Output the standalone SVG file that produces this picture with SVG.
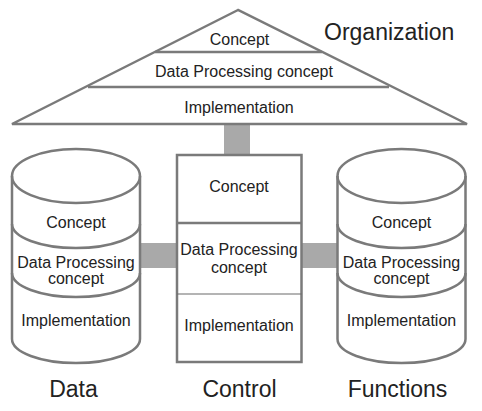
<svg xmlns="http://www.w3.org/2000/svg" width="482" height="411" viewBox="0 0 482 411">
<style>
.ln{fill:none;stroke:#7a7a7a;stroke-width:2.5}
.bx{fill:#fff;stroke:#7a7a7a;stroke-width:2.5}
.thin{stroke:#6a6a6a;stroke-width:1.2}
.bar{fill:#a9a9a9}
text{font-family:"Liberation Sans",Arial,sans-serif;fill:#222;text-anchor:middle}
.s{font-size:16px}
.b{font-size:23px}
</style>
<rect width="482" height="411" fill="#fff"/>
<g id="connectors">
<rect class="bar" x="224" y="123" width="26" height="33"/>
<rect class="bar" x="139" y="243" width="39" height="25"/>
<rect class="bar" x="300" y="243" width="39" height="25"/>
</g>
<g id="organization">
<polygon class="bx" points="238,10 12,124 467,124"/>
<line class="ln" x1="155" y1="52" x2="322" y2="52"/>
<line class="ln" x1="88" y1="87" x2="389" y2="87"/>
<text class="s" x="239.5" y="45">Concept</text>
<text class="s" x="244" y="77">Data Processing concept</text>
<text class="s" x="239" y="113">Implementation</text>
<text class="b" x="324" y="39.5" style="text-anchor:start">Organization</text>
</g>
<g id="data">
<path class="bx" d="M12,176 A64,27 0 0 1 140,176 L140,339 A64,24 0 0 1 12,339 Z"/>
<path class="ln" d="M12,176 A64,27 0 0 0 140,176"/>
<path class="ln" d="M12,224 A64,24 0 0 0 140,224"/>
<path class="ln" d="M12,273 A64,24 0 0 0 140,273"/>
<text class="s" x="76" y="227.5">Concept</text>
<text class="s" x="76" y="267.5">Data Processing</text>
<text class="s" x="76" y="283.5">concept</text>
<text class="s" x="76" y="326">Implementation</text>
<text class="b" x="73.5" y="397">Data</text>
</g>
<g id="control">
<rect class="bx" x="177" y="155" width="124.5" height="207"/>
<line class="ln" x1="177" y1="223" x2="301.5" y2="223"/>
<line class="thin" x1="177" y1="294" x2="301.5" y2="294"/>
<text class="s" x="239" y="191.5">Concept</text>
<text class="s" x="239" y="255">Data Processing</text>
<text class="s" x="239" y="272.5">concept</text>
<text class="s" x="239" y="331">Implementation</text>
<text class="b" x="239.5" y="397">Control</text>
</g>
<g id="functions">
<path class="bx" d="M337.5,176 A64,27 0 0 1 465.5,176 L465.5,339 A64,24 0 0 1 337.5,339 Z"/>
<path class="ln" d="M337.5,176 A64,27 0 0 0 465.5,176"/>
<path class="ln" d="M337.5,224 A64,24 0 0 0 465.5,224"/>
<path class="ln" d="M337.5,273 A64,24 0 0 0 465.5,273"/>
<text class="s" x="401.5" y="227.5">Concept</text>
<text class="s" x="401.5" y="267.5">Data Processing</text>
<text class="s" x="401.5" y="283.5">concept</text>
<text class="s" x="401.5" y="326">Implementation</text>
<text class="b" x="397.5" y="397">Functions</text>
</g>
</svg>
